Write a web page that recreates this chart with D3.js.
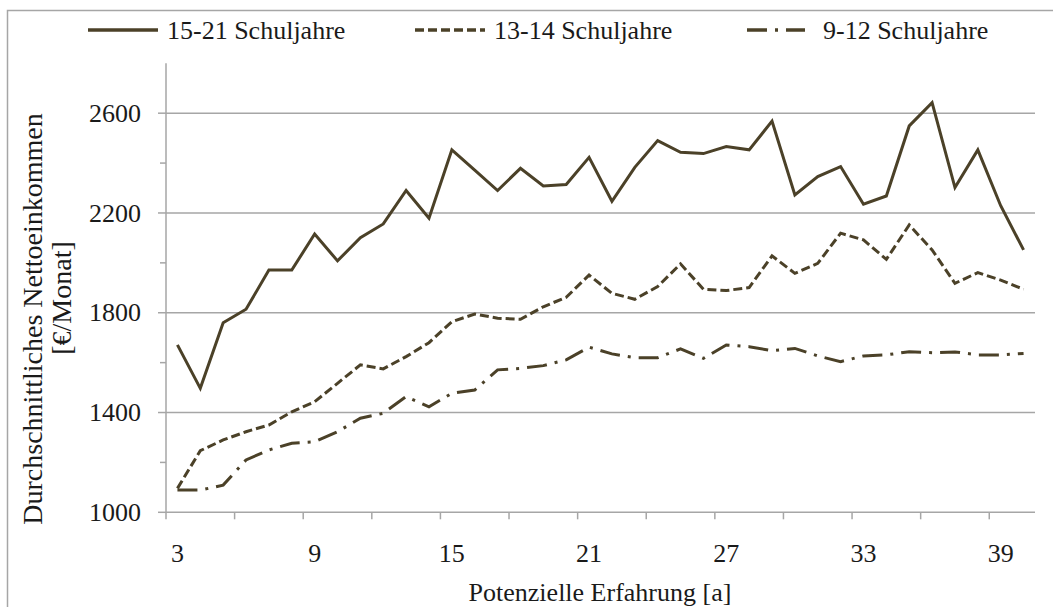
<!DOCTYPE html>
<html>
<head>
<meta charset="utf-8">
<script src="https://cdn.jsdelivr.net/npm/d3@7/dist/d3.min.js"></script>
<style>
  html, body { margin: 0; padding: 0; background: #ffffff; }
</style>
</head>
<body>
<svg id="chart" width="1053" height="607"></svg>
<script>
const years = [3,4,5,6,7,8,9,10,11,12,13,14,15,16,17,18,19,20,21,22,23,24,25,26,27,28,29,30,31,32,33,34,35,36,37,38,39,40];
const s1521 = [1671,1497,1760,1814,1971,1971,2116,2008,2101,2156,2290,2179,2453,2372,2290,2379,2308,2314,2423,2247,2383,2490,2443,2438,2466,2453,2568,2272,2346,2386,2235,2268,2549,2642,2302,2453,2229,2052];
const s1314 = [1096,1247,1290,1323,1350,1403,1443,1517,1591,1575,1624,1680,1764,1795,1778,1774,1824,1862,1951,1878,1854,1905,1996,1894,1889,1901,2028,1958,1998,2119,2092,2014,2152,2052,1918,1961,1931,1894];
const s912  = [1089,1089,1109,1210,1250,1277,1283,1323,1377,1397,1464,1423,1477,1490,1571,1577,1588,1611,1662,1635,1620,1620,1655,1617,1671,1664,1648,1657,1627,1604,1627,1631,1644,1640,1643,1631,1631,1637];
const seriesNames = ["15-21 Schuljahre", "13-14 Schuljahre", "9-12 Schuljahre"];
const yMajorTicks = [1000,1400,1800,2200,2600];
const yMinorTicks = [1200,1600,2000,2400];
const xLabelYears = [3,9,15,21,27,33,39];
const xTickYears = [3,6,9,12,15,18,21,24,27,30,33,36,39];
const yTitle = ["Durchschnittliches Nettoeinkommen", "[€/Monat]"];
const xTitle = "Potenzielle Erfahrung [a]";

const lineColor = "#4b4128";
const gridColor = "#a6a6a6";
const textColor = "#1a1a1a";
const fontFamily = "'Liberation Serif', 'Times New Roman', 'DejaVu Serif', serif";
const fontSize = 26;

const svg = d3.select("#chart");
svg.append("rect").attr("width", 1053).attr("height", 607).attr("fill", "#fff");
svg.append("rect").attr("x", 7.5).attr("y", 10.5).attr("width", 1100).attr("height", 700)
  .attr("fill", "none").attr("stroke", gridColor).attr("stroke-width", 1.5);

const pLeft = 166, pRight = 1035, pTop = 63.3, pBottom = 512.3;
const x = d3.scaleBand().domain(years).range([pLeft, pRight]).padding(0);
const y = d3.scaleLinear().domain([1000, 2800]).range([pBottom, pTop]);
const cx = d => x(d) + x.bandwidth() / 2;

function txt(sel, size) {
  return sel.attr("font-family", fontFamily).attr("font-size", size || fontSize).attr("fill", textColor);
}

svg.append("g").selectAll("line").data(yMajorTicks.filter(v => v > 1000)).join("line")
  .attr("x1", pLeft).attr("x2", pRight).attr("y1", d => y(d)).attr("y2", d => y(d))
  .attr("stroke", gridColor).attr("stroke-width", 1.5);

const yAxis = svg.append("g");
yAxis.append("line").attr("x1", pLeft).attr("x2", pLeft).attr("y1", pTop).attr("y2", pBottom)
  .attr("stroke", gridColor).attr("stroke-width", 1.5);
yAxis.selectAll("line.major").data(yMajorTicks).join("line").attr("class", "major")
  .attr("x1", pLeft - 8).attr("x2", pLeft).attr("y1", d => y(d)).attr("y2", d => y(d))
  .attr("stroke", gridColor).attr("stroke-width", 1.5);
yAxis.selectAll("line.minor").data(yMinorTicks).join("line").attr("class", "minor")
  .attr("x1", pLeft - 6).attr("x2", pLeft).attr("y1", d => y(d)).attr("y2", d => y(d))
  .attr("stroke", gridColor).attr("stroke-width", 1.5);
txt(yAxis.selectAll("text").data(yMajorTicks).join("text"))
  .attr("x", 141).attr("y", d => y(d)).attr("dy", "0.33em")
  .attr("text-anchor", "end").text(d => d);

const xAxis = svg.append("g");
xAxis.append("line").attr("x1", pLeft).attr("x2", pRight).attr("y1", pBottom).attr("y2", pBottom)
  .attr("stroke", gridColor).attr("stroke-width", 1.5);
xAxis.selectAll("line.tick").data(xTickYears).join("line").attr("class", "tick")
  .attr("x1", d => x(d)).attr("x2", d => x(d)).attr("y1", pBottom).attr("y2", pBottom + 7)
  .attr("stroke", gridColor).attr("stroke-width", 1.5);
txt(xAxis.selectAll("text").data(xLabelYears).join("text"))
  .attr("x", d => cx(d)).attr("y", 562)
  .attr("text-anchor", "middle").text(d => d);

txt(svg.append("text")).attr("x", 600).attr("y", 601).attr("text-anchor", "middle").text(xTitle);
txt(svg.append("text"), 28).attr("transform", "translate(42,319) rotate(-90)").attr("text-anchor", "middle").text(yTitle[0]);
txt(svg.append("text"), 28).attr("transform", "translate(71,298) rotate(-90)").attr("text-anchor", "middle").text(yTitle[1]);

const dashes = [null, "9,4", "20,8,3,8"];
const data = [s1521, s1314, s912];
const line = d3.line().x((d, i) => cx(years[i])).y(d => y(d));
data.forEach((s, k) => {
  svg.append("path").datum(s).attr("d", line)
    .attr("fill", "none").attr("stroke", lineColor).attr("stroke-width", 3)
    .attr("stroke-linejoin", "miter")
    .attr("stroke-dasharray", dashes[k]);
});

const legendItems = [
  {x1: 88, x2: 158, tx: 167},
  {x1: 415, x2: 485, tx: 494},
  {x1: 747, x2: 805, tx: 823}
];
legendItems.forEach((it, k) => {
  svg.append("line").attr("x1", it.x1).attr("x2", it.x2).attr("y1", 30).attr("y2", 30)
    .attr("stroke", lineColor).attr("stroke-width", 3.5).attr("stroke-dasharray", dashes[k]);
  txt(svg.append("text")).attr("x", it.tx).attr("y", 30).attr("dy", "0.33em").text(seriesNames[k]);
});
</script>
</body>
</html>
